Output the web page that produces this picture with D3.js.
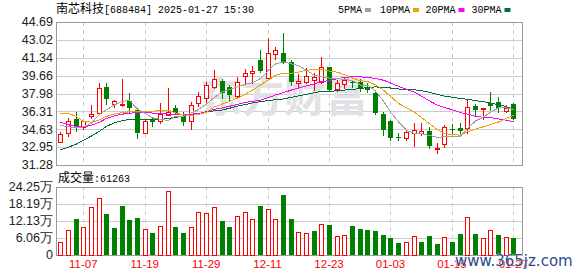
<!DOCTYPE html>
<html>
<head>
<meta charset="utf-8">
<script src="https://cdn.jsdelivr.net/npm/d3@7"></script>
<style>
  body { margin: 0; background: #fff; }
  svg { display: block; }
</style>
</head>
<body>
<svg></svg>
<script>
// Chart size and panel edges
const width = 578, height = 276;
const panel = { left: 56, right: 522, top: 22, bottom: 165, volTop: 187, volBottom: 255 };

// Trading days shown (2024-11-04 .. 2025-01-27)
const dates = [
  "2024-11-04","2024-11-05","2024-11-06","2024-11-07","2024-11-08",
  "2024-11-11","2024-11-12","2024-11-13","2024-11-14","2024-11-15",
  "2024-11-18","2024-11-19","2024-11-20","2024-11-21","2024-11-22",
  "2024-11-25","2024-11-26","2024-11-27","2024-11-28","2024-11-29",
  "2024-12-02","2024-12-03","2024-12-04","2024-12-05","2024-12-06",
  "2024-12-09","2024-12-10","2024-12-11","2024-12-12","2024-12-13",
  "2024-12-16","2024-12-17","2024-12-18","2024-12-19","2024-12-20",
  "2024-12-23","2024-12-24","2024-12-25","2024-12-26","2024-12-27",
  "2024-12-30","2024-12-31","2025-01-02","2025-01-03","2025-01-06",
  "2025-01-07","2025-01-08","2025-01-09","2025-01-10","2025-01-13",
  "2025-01-14","2025-01-15","2025-01-16","2025-01-17","2025-01-20",
  "2025-01-21","2025-01-22","2025-01-23","2025-01-24","2025-01-27"
];

// OHLC
const opens = [33.41,34.25,35.57,34.87,35.88,36.19,38.57,37.03,36.88,37.31,
  36.44,34.31,35.57,35.43,35.97,36.60,35.88,35.41,37.07,37.53,
  38.57,39.19,38.57,37.75,39.63,39.88,41.10,39.47,41.66,41.81,
  40.97,38.94,39.09,39.25,39.09,40.50,38.41,38.88,39.03,39.04,
  38.47,38.00,36.03,35.41,33.86,33.78,34.25,34.25,34.47,32.83,
  33.22,34.65,34.72,34.72,36.81,36.50,37.07,37.16,36.37,37.00];
const highs = [34.40,35.66,36.22,35.45,36.91,38.94,38.94,37.40,39.34,38.06,
  36.60,35.57,35.75,37.07,38.47,36.91,36.28,37.22,38.15,39.09,
  40.19,39.32,38.78,39.56,40.31,40.56,42.06,43.22,42.37,43.69,
  41.13,39.79,40.40,39.88,41.44,40.50,39.25,39.56,39.25,39.35,
  38.94,38.15,36.22,35.50,34.25,34.56,35.19,35.25,34.80,33.32,
  35.03,35.13,35.25,37.38,37.00,36.65,38.10,37.69,36.91,37.05];
const lows = [33.41,34.00,34.47,34.66,35.69,36.19,37.00,36.72,36.81,36.28,
  33.84,34.31,34.94,35.19,35.97,36.06,35.03,34.66,36.81,37.07,
  38.47,37.53,37.38,37.70,38.94,39.00,40.03,39.41,41.19,40.82,
  38.78,38.69,38.94,38.31,38.94,38.20,38.20,38.47,38.63,38.22,
  38.15,36.03,34.09,33.62,33.62,33.60,33.09,34.09,32.85,32.43,
  33.00,34.19,34.09,34.25,35.97,35.57,36.44,36.28,36.28,35.57];
const closes = [34.19,35.43,34.87,35.38,36.08,38.47,37.44,37.25,36.97,36.60,
  34.25,35.41,35.34,36.06,36.28,36.19,35.34,36.91,37.75,38.78,
  39.32,38.06,37.85,39.04,39.94,40.10,40.05,41.81,42.06,40.87,
  39.09,39.16,39.65,39.50,40.50,38.31,38.94,39.25,38.98,38.38,
  38.31,36.13,34.56,33.84,33.82,34.35,34.56,34.47,33.06,32.87,
  34.82,34.61,34.50,36.69,36.44,36.65,36.81,36.60,36.65,35.57];

// Volume (shares)
const volumes = [45500,88400,129000,99000,171000,203000,147000,98000,176000,125000,
  132500,92000,79000,103000,228000,100000,79000,99000,153000,149000,
  171000,122000,100000,139000,153000,128000,176000,165000,128000,215000,
  129000,81000,78000,84000,110000,107000,68000,72000,104000,93000,
  90000,86000,72000,61000,43000,45000,68000,47000,68000,39000,
  64000,47000,75000,135000,75000,61000,88000,72000,64000,61263];

// Moving averages
const ma5 = [35.00,34.85,34.80,34.85,35.19,36.05,36.45,36.92,37.24,37.35,
  36.50,36.10,35.71,35.53,35.47,35.86,35.84,36.16,36.49,36.99,
  37.62,38.16,38.35,38.61,38.84,39.00,39.39,40.17,40.76,40.96,
  40.76,40.59,40.17,39.67,39.58,39.42,39.38,39.30,39.20,38.77,
  38.77,38.21,37.27,36.24,35.33,34.54,34.23,34.21,34.05,33.86,
  33.96,33.97,33.97,34.70,35.41,35.78,36.22,36.64,36.63,36.46];
const ma10 = [36.15,36.13,35.80,35.35,35.30,35.50,35.85,36.05,36.20,36.27,
  36.27,36.27,36.32,36.39,36.41,36.18,35.97,35.94,36.01,36.23,
  36.74,37.00,37.25,37.55,37.92,38.31,38.78,39.26,39.68,39.90,
  39.88,39.99,40.17,40.22,40.27,40.09,39.98,39.73,39.44,39.18,
  39.10,38.80,38.29,37.72,37.05,36.66,36.22,35.74,35.15,34.60,
  34.25,34.10,34.09,34.38,34.64,34.87,35.09,35.31,35.66,35.93];
const ma20 = [35.30,35.05,34.88,34.87,35.00,35.30,35.65,35.90,36.05,36.13,
  36.20,36.20,36.15,36.10,36.05,36.00,36.00,36.05,36.12,36.25,
  36.51,36.64,36.79,36.97,37.16,37.24,37.37,37.60,37.85,38.07,
  38.31,38.50,38.71,38.88,39.10,39.20,39.38,39.50,39.56,39.54,
  39.49,39.39,39.23,38.97,38.66,38.37,38.10,37.74,37.29,36.89,
  36.67,36.45,36.19,36.05,35.84,35.76,35.73,35.60,35.48,35.34];
const ma30 = [32.70,32.95,33.25,33.60,34.00,34.45,34.90,35.25,35.45,35.55,
  35.55,35.50,35.50,35.55,35.65,35.75,35.85,35.97,36.10,36.28,
  36.36,36.44,36.60,36.80,36.95,37.10,37.22,37.33,37.40,37.47,
  37.63,37.76,37.91,38.05,38.20,38.19,38.24,38.31,38.38,38.44,
  38.57,38.60,38.57,38.50,38.41,38.35,38.33,38.25,38.09,37.89,
  37.74,37.63,37.52,37.44,37.32,37.21,37.10,36.93,36.75,36.50];

// Axis ticks
const priceTicks = [31.28, 32.95, 34.63, 36.31, 37.98, 39.66, 41.34, 43.02, 44.69];
const volTicks = [0, 60600, 121300, 181900, 242500];
const volTickLabels = ["0", "6.06万", "12.13万", "18.19万", "24.25万"];
const labelDates = ["2024-11-07","2024-11-19","2024-11-29","2024-12-11","2024-12-23","2025-01-03","2025-01-15","2025-01-27"];

const maSeries = [
  { name: "5PMA", values: ma5, color: "#a0a0a0" },
  { name: "10PMA", values: ma10, color: "#f0a000" },
  { name: "20PMA", values: ma20, color: "#ff00ff" },
  { name: "30PMA", values: ma30, color: "#00703a" }
];

const red = "#ff0000", green = "#008000";
const mono = "'Liberation Mono', 'DejaVu Sans Mono', monospace";
const cjk = "'Noto Sans CJK SC', sans-serif";
const sans = "'Liberation Sans', Arial, sans-serif";

const svg = d3.select("svg")
  .attr("width", width)
  .attr("height", height);

// Scales
const x = d3.scaleBand().domain(dates).range([56.4, 517.2]);
const cx = d => Math.round(x(d) + x.bandwidth() / 2);
const y = d3.scaleLinear().domain([31.28, 44.69]).range([panel.bottom, panel.top]);
const yv = d3.scaleLinear().domain([0, 242500]).range([panel.volBottom, panel.volTop]);

const data = dates.map((d, i) => ({
  date: d, open: opens[i], high: highs[i], low: lows[i], close: closes[i],
  volume: volumes[i], prev: i > 0 ? closes[i - 1] : opens[i]
}));

// Horizontal gridlines
svg.append("g").selectAll("line")
  .data(priceTicks)
  .join("line")
  .attr("x1", panel.left).attr("x2", panel.right)
  .attr("y1", d => Math.round(y(d)) + 0.5).attr("y2", d => Math.round(y(d)) + 0.5)
  .attr("stroke", "#cccccc");

svg.append("g").selectAll("line")
  .data(volTicks)
  .join("line")
  .attr("x1", panel.left).attr("x2", panel.right)
  .attr("y1", d => Math.round(yv(d)) + 0.5).attr("y2", d => Math.round(yv(d)) + 0.5)
  .attr("stroke", "#cccccc");

// Vertical dashed gridlines at the date labels
const vg = svg.append("g").attr("stroke", "#cccccc").attr("stroke-dasharray", "4,4");
labelDates.forEach(d => {
  vg.append("line").attr("x1", cx(d) + 0.5).attr("x2", cx(d) + 0.5)
    .attr("y1", panel.top).attr("y2", panel.bottom);
  vg.append("line").attr("x1", cx(d) + 0.5).attr("x2", cx(d) + 0.5)
    .attr("y1", panel.volTop).attr("y2", panel.volBottom);
});

// Faint watermark behind the marks
svg.append("text")
  .attr("x", 200).attr("y", 112)
  .attr("font-family", cjk).attr("font-weight", "bold").attr("font-size", 42)
  .attr("fill", "#e2e2e6")
  .text("东方财富");

// Panel borders
svg.append("rect")
  .attr("x", panel.left + 0.5).attr("y", panel.top + 0.5)
  .attr("width", panel.right - panel.left).attr("height", panel.bottom - panel.top)
  .attr("fill", "none").attr("stroke", "#999999");
svg.append("rect")
  .attr("x", panel.left + 0.5).attr("y", panel.volTop + 0.5)
  .attr("width", panel.right - panel.left).attr("height", panel.volBottom - panel.volTop)
  .attr("fill", "none").attr("stroke", "#999999");

// Candles
const candles = svg.append("g").attr("shape-rendering", "crispEdges")
  .selectAll("g")
  .data(data)
  .join("g");

candles.append("line")
  .attr("x1", d => cx(d.date) + 0.5).attr("x2", d => cx(d.date) + 0.5)
  .attr("y1", d => Math.round(y(d.high))).attr("y2", d => Math.round(y(d.low)) + 1)
  .attr("stroke", d => d.close >= d.open ? red : green);

candles.append("rect")
  .attr("x", d => d.close >= d.open ? cx(d.date) - 1.5 : cx(d.date) - 2)
  .attr("y", d => Math.round(y(Math.max(d.open, d.close))) + (d.close >= d.open ? 0.5 : 0))
  .attr("width", d => d.close >= d.open ? 4 : 5)
  .attr("height", d => Math.max(1, Math.round(y(Math.min(d.open, d.close))) - Math.round(y(Math.max(d.open, d.close)))))
  .attr("fill", d => d.close >= d.open ? "#ffffff" : green)
  .attr("stroke", d => d.close >= d.open ? red : "none");

// Moving average lines
const line = d3.line()
  .x((v, i) => cx(dates[i]) + 0.5)
  .y(v => y(v));

svg.append("g").selectAll("path")
  .data(maSeries.slice().reverse())
  .join("path")
  .attr("d", s => line(s.values))
  .attr("fill", "none")
  .attr("stroke", s => s.color)
  .attr("stroke-width", 1)
  .attr("shape-rendering", "crispEdges");

// Volume bars (colour by close vs previous close)
svg.append("g").attr("shape-rendering", "crispEdges")
  .selectAll("rect")
  .data(data)
  .join("rect")
  .attr("x", d => d.close >= d.prev ? cx(d.date) - 1.5 : cx(d.date) - 2)
  .attr("y", d => Math.round(yv(d.volume)) + (d.close >= d.prev ? 0.5 : 0))
  .attr("width", d => d.close >= d.prev ? 4 : 5)
  .attr("height", d => panel.volBottom - Math.round(yv(d.volume)))
  .attr("fill", d => d.close >= d.prev ? "#ffffff" : green)
  .attr("stroke", d => d.close >= d.prev ? red : "none");

// Y axes
const yAxis = svg.append("g")
  .attr("transform", `translate(${panel.left},0)`)
  .call(d3.axisLeft(y).tickValues(priceTicks).tickFormat(d3.format(".2f")).tickSize(0).tickPadding(3));
yAxis.select(".domain").remove();
yAxis.selectAll("text").attr("font-family", sans).attr("font-size", 12.5).attr("fill", "#222").attr("dy", "0.3em");

const vAxis = svg.append("g")
  .attr("transform", `translate(${panel.left},0)`)
  .call(d3.axisLeft(yv).tickValues(volTicks).tickFormat((d, i) => volTickLabels[i]).tickSize(0).tickPadding(3));
vAxis.select(".domain").remove();
vAxis.selectAll("text").attr("font-family", sans).attr("font-size", 12.5).attr("fill", "#222").attr("dy", "0.3em");

// X axis labels
const xAxis = svg.append("g")
  .attr("transform", `translate(0,${panel.volBottom})`)
  .call(d3.axisBottom(x).tickValues(labelDates).tickFormat(d => d.slice(5)).tickSize(0).tickPadding(5));
xAxis.select(".domain").remove();
xAxis.selectAll("text").attr("font-family", sans).attr("font-size", 11.5).attr("fill", red);

// Title
const title = svg.append("text").attr("x", 56).attr("y", 13).attr("fill", "#000");
title.append("tspan").attr("font-family", cjk).attr("font-size", 12).text("南芯科技");
title.append("tspan").attr("font-family", mono).attr("font-size", 10).text("[688484] 2025-01-27 15:30");

// Legend
const legendX = [338, 380, 425.5, 471.5];
maSeries.forEach((s, i) => {
  const t = svg.append("text")
    .attr("x", legendX[i]).attr("y", 13)
    .attr("font-family", mono).attr("font-size", 10).attr("fill", "#000")
    .text(s.name);
  svg.append("rect")
    .attr("x", legendX[i] + s.name.length * 6 + 3).attr("y", 8)
    .attr("width", 6).attr("height", 4)
    .attr("fill", s.color);
});

// Volume label
const vl = svg.append("text").attr("x", 58).attr("y", 182).attr("fill", "#000");
vl.append("tspan").attr("font-family", cjk).attr("font-size", 12).text("成交量");
vl.append("tspan").attr("font-family", mono).attr("font-size", 10).text(":" + volumes[volumes.length - 1]);

// Site watermark
svg.append("text")
  .attr("x", 455).attr("y", 266)
  .attr("font-family", "'DejaVu Sans', sans-serif").attr("font-size", 15)
  .attr("fill", "#2b4a8b").attr("stroke", "#ffffff").attr("stroke-width", 0.6)
  .attr("paint-order", "stroke")
  .text("www.365jz.com");
</script>
</body>
</html>
